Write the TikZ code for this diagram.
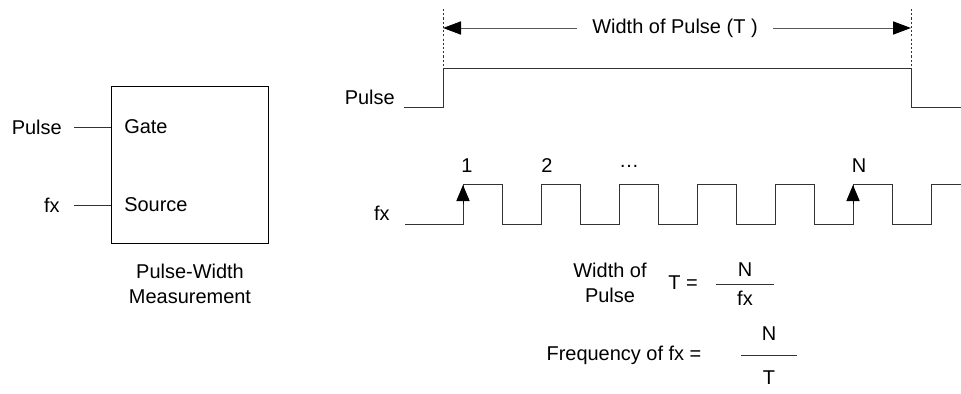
\documentclass[tikz,border=0pt]{standalone}
\usepackage{fontspec}
\setmainfont{Liberation Sans}
\usetikzlibrary{positioning,arrows.meta}

\begin{document}
\begin{tikzpicture}[
  x=0.025cm, y=-0.025cm,
  font=\fontsize{14.2}{17.7}\selectfont,
  lbl/.style={inner sep=0pt},
  wave/.style={draw=black!80, line width=0.7pt},
  arrow/.style={-{Triangle[length=4.5mm,width=3.3mm,black]}, draw=black!65, line width=0.7pt},
  guide/.style={draw=black!80, dash pattern=on 1.5pt off 1.5pt, line width=0.6pt},
  clk/.style={{Triangle[length=4mm,width=3.3mm]}-, line width=0.7pt}
]
\useasboundingbox (0,0) rectangle (961,394);

% counter block
\node[draw, line width=0.7pt, minimum width=3.9cm, minimum height=3.9cm, inner sep=0pt] (meter) at (190,165) {};
\node[lbl, anchor=west] (gate) at (124,127) {Gate};
\node[lbl, anchor=west] (source) at (124,205) {Source};
\node[lbl, left=1.55cm of gate] (pulsein) {Pulse};
\node[lbl, left=1.6cm of source] (fxin) {fx};
\draw[wave] ([xshift=0.3cm]pulsein.east) -- (pulsein -| meter.west);
\draw[wave] ([xshift=0.35cm]fxin.east) -- (fxin -| meter.west);
\node[lbl, align=center, below=0.5cm of meter] (caption) {Pulse-Width\\Measurement};

% timing
\node[lbl, anchor=east] (pulselbl) at (395,97) {Pulse};
\node[lbl, anchor=east] (fxlbl) at (390,213) {fx};
\draw[wave] (404,107) -- (443,107) -- (443,68) -- (911,68) -- (911,107) -- (961,107);
\draw[wave] (405,224) -- (463,224)
  \foreach \k in {0,...,5} { -- ++(0,-40) -- ++(39,0) -- ++(0,40) -- ++(39,0) }
  -- ++(0,-40) -- (961,184);
\draw[clk] (463,185) -- (463,204);
\draw[clk] (853,185) -- (853,204);
\node[lbl] (cnt1) at (467,166) {1};
\node[lbl] (cnt2) at (547,166) {2};
\node[lbl] (cntdots) at (629,166) {\dots};
\node[lbl] (cntN) at (859,166) {N};

% width of pulse
\coordinate (tleft) at (443,28);
\coordinate (tright) at (911,28);
\draw[guide] (443,9) -- (443,68);
\draw[guide] (911,9) -- (911,68);
\node[inner xsep=0.38cm, inner ysep=0pt] (twidth) at (675,28) {Width of Pulse (T )};
\draw[arrow] (twidth.west) -- (tleft);
\draw[arrow] (twidth.east) -- (tright);

% formulas
\node[lbl, align=center] (wlbl) at (610,283) {Width of\\Pulse};
\node[lbl] (teq) at (683,283) {T =};
\node[lbl] (num1) at (745,270) {N};
\node[lbl] (den1) at (745,298) {fx};
\draw[wave] (716,284) -- (774,284);
\node[lbl] (freq) at (624,355) {Frequency of fx =};
\node[lbl] (num2) at (769,334) {N};
\node[lbl] (den2) at (769,378) {T};
\draw[wave] (741,355) -- (797,355);
\end{tikzpicture}
\end{document}
